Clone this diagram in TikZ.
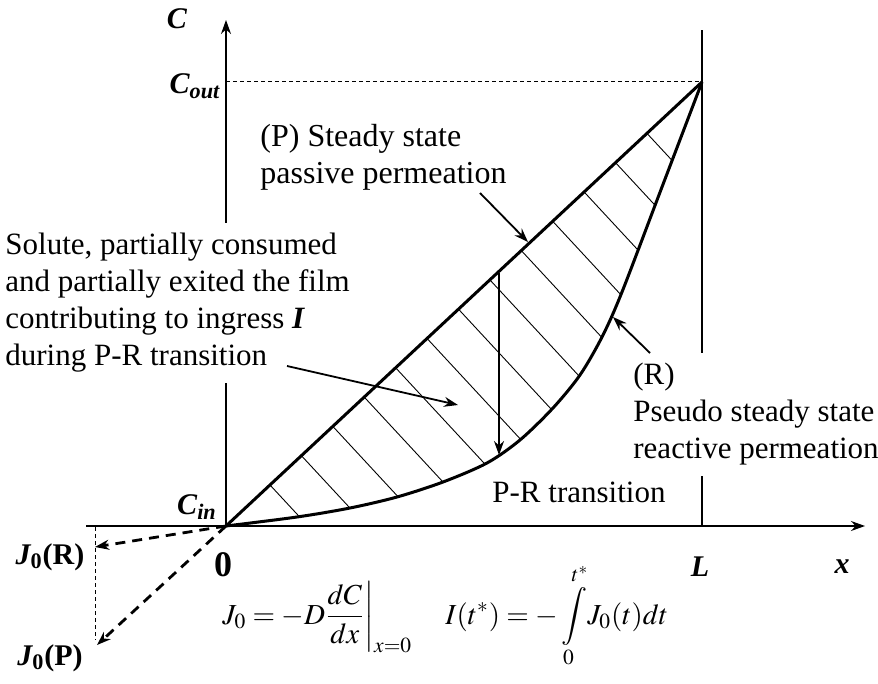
\documentclass[tikz,border=0pt]{standalone}
\usepackage{mathptmx}
\usepackage[no-math]{fontspec}
\setmainfont{Liberation Serif}
\usetikzlibrary{arrows.meta,positioning,calc}

\begin{document}
\begin{tikzpicture}[x=0.5pt,y=-0.5pt,>={Stealth[length=7pt,width=5pt]}]
  \tikzset{txt/.style={font=\fontsize{15.5}{18.5}\selectfont,inner sep=0pt}}
  \tikzset{lab/.style={font=\fontsize{15}{18}\selectfont\bfseries\itshape,inner sep=0pt}}
  \tikzset{eqn/.style={font=\fontsize{14.5}{17}\selectfont,inner sep=0pt}}
  \tikzset{curve/.style={line width=1.5pt,line join=round}}
  \tikzset{axis/.style={line width=0.6pt}}
  \tikzset{hatch/.style={line width=0.45pt}}
  \tikzset{ptr/.style={->,line width=0.9pt}}
  \tikzset{flux/.style={->,line width=1.4pt,dash pattern=on 5pt off 3.5pt}}
  \tikzset{guide/.style={line width=0.5pt,dash pattern=on 2pt off 1.5pt}}
  \useasboundingbox (0,0) rectangle (878,684);
  \coordinate (O) at (226,526);
  \coordinate (T) at (702,82);
  \coordinate (ctop) at (226,20);
  \coordinate (xbeg) at (86,526);
  \coordinate (xend) at (865,526);
  \coordinate (ltop) at (702,30);
  \coordinate (lbot) at (702,526);
  \coordinate (cout) at (226,82);
  \coordinate (jrtip) at (95,547);
  \coordinate (jptip) at (97,645);
  \coordinate (jtop) at (95,527);
  \coordinate (jbot) at (95,640);
  \draw[axis,->] (O) -- (ctop);
  \draw[axis,->] (xbeg) -- (xend);
  \draw[axis] (lbot) -- (ltop);
  \draw[guide] (cout) -- (T);
  \draw[guide] (jtop) -- (jbot);
  \node[lab] (clab) at (177,19) {C};
  \node[lab] (coutlab) at (195,86) {C\textsubscript{out}};
  \node[lab] (cinlab) at (197,507) {C\textsubscript{in}};
  \node[lab,font=\fontsize{18}{20}\selectfont\bfseries] (zero) at (223,565) {0};
  \node[lab] (llab) at (700,567) {L};
  \node[lab] (xlab) at (842,567) {x};
  \node[lab] (jrlab) at (50,557) {J\textsubscript{\upshape 0}\upshape(R)};
  \node[lab] (jplab) at (50,658) {J\textsubscript{\upshape 0}\upshape(P)};
  \node[txt,align=left,anchor=north west,fill=white,inner sep=5pt] (solute) at (-5,223)
    {Solute, partially consumed\\and partially exited the film\\contributing to ingress \textbf{\textit{I}}\\during P-R transition};
  \node[txt,align=left,anchor=north west,fill=white,inner sep=5pt] (rtext) at (623,353)
    {(R)\\Pseudo steady state\\reactive permeation};
  \node[txt,font=\fontsize{16}{18.5}\selectfont,align=left,anchor=north west] (ptext) at (260,124) {(P) Steady state\\passive permeation};
  \node[txt,anchor=base west] (prtext) at (492,502) {P-R transition};
  \node[eqn,anchor=base west] (jdef) at (222,624) {$\displaystyle J_{0}=-D\frac{dC}{dx}\bigg|_{x=0}$};
  \node[eqn,anchor=base west] (ingress) at (445,624) {$\displaystyle I(t^{*})=-\int\limits_{0}^{t^{*}}\!J_{0}(t)dt$};
  \begin{scope}
    \clip plot[smooth,tension=0.5] coordinates {(226,526) (297,517) (350,508) (397,497) (443,482) (487,463) (520,440) (553,408) (580,375) (602,337) (622,292) (662,187) (702,82)} -- cycle;
    \foreach \k in {0,...,12}
      \draw[hatch] ($(O)!{0.0924+0.066*\k}!(T)$) -- ++(204,220);
  \end{scope}
  \draw[curve] (O) -- (T);
  \draw[curve] plot[smooth,tension=0.5] coordinates {(226,526) (297,517) (350,508) (397,497) (443,482) (487,463) (520,440) (553,408) (580,375) (602,337) (622,292) (662,187) (702,82)};
  \coordinate (ptail) at (480,193);
  \coordinate (phead) at (528,242);
  \coordinate (rtail) at (650,353);
  \coordinate (rhead) at (613,317);
  \coordinate (stail) at (287,366);
  \coordinate (shead) at (458,405);
  \coordinate (vtop) at (499,273);
  \coordinate (vbot) at (499,455);
  \draw[ptr] (ptail) -- (phead);
  \draw[ptr] (rtail) -- (rhead);
  \draw[ptr] (stail) -- (shead);
  \draw[ptr] (vtop) -- (vbot);
  \draw[flux] (O) -- (jrtip);
  \draw[flux] (O) -- (jptip);
\end{tikzpicture}
\end{document}
